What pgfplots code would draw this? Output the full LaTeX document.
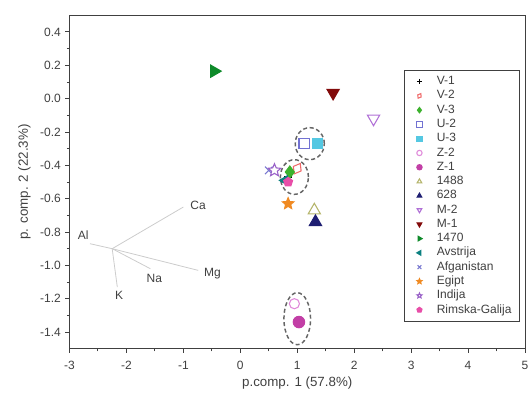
\documentclass[border=0pt]{standalone}
\usepackage{pgfplots}
\pgfplotsset{compat=1.18}
\usepackage{fontspec}
\setmainfont{Liberation Sans}
\usetikzlibrary{plotmarks}

\definecolor{txt}{HTML}{404040}
\definecolor{cV2}{HTML}{F06A6A}
\definecolor{cV3}{HTML}{3DB22E}
\definecolor{cU2}{HTML}{7272D2}
\definecolor{cU3}{HTML}{55C8E2}
\definecolor{cZ2}{HTML}{E08ADA}
\definecolor{cZ1}{HTML}{C23FA6}
\definecolor{c1488}{HTML}{B4B46A}
\definecolor{c628}{HTML}{1E1E72}
\definecolor{cM2}{HTML}{B070D6}
\definecolor{cM1}{HTML}{820A0A}
\definecolor{c1470}{HTML}{0E8A2A}
\definecolor{cAv}{HTML}{0A8080}
\definecolor{cAf}{HTML}{7878D0}
\definecolor{cEg}{HTML}{F08A22}
\definecolor{cIn}{HTML}{9A62C8}
\definecolor{cRG}{HTML}{E84EA8}

% five-pointed star
\pgfdeclareplotmark{fstar}{%
  \pgfpathmoveto{\pgfpointpolar{90}{\pgfplotmarksize}}%
  \pgfpathlineto{\pgfpointpolar{126}{0.45\pgfplotmarksize}}%
  \pgfpathlineto{\pgfpointpolar{162}{\pgfplotmarksize}}%
  \pgfpathlineto{\pgfpointpolar{198}{0.45\pgfplotmarksize}}%
  \pgfpathlineto{\pgfpointpolar{234}{\pgfplotmarksize}}%
  \pgfpathlineto{\pgfpointpolar{270}{0.45\pgfplotmarksize}}%
  \pgfpathlineto{\pgfpointpolar{306}{\pgfplotmarksize}}%
  \pgfpathlineto{\pgfpointpolar{342}{0.45\pgfplotmarksize}}%
  \pgfpathlineto{\pgfpointpolar{18}{\pgfplotmarksize}}%
  \pgfpathlineto{\pgfpointpolar{54}{0.45\pgfplotmarksize}}%
  \pgfpathclose
  \pgfusepathqfillstroke}

\begin{document}
\begin{tikzpicture}
\begin{axis}[
    scale only axis,
    width=341.6pt, height=250pt,
    xmin=-3, xmax=5, ymin=-1.5, ymax=0.5,
    xtick={-3,-2,-1,0,1,2,3,4,5},
    ytick={-1.4,-1.2,-1.0,-0.8,-0.6,-0.4,-0.2,0.0,0.2,0.4},
    minor x tick num=1, minor y tick num=1,
    tick align=outside, xtick pos=bottom, ytick pos=left,
    major tick length=3pt, minor tick length=2pt,
    axis line style={draw=black!75, line width=0.75pt},
    every tick/.style={draw=black!75, line width=0.75pt},
    /pgf/number format/assume math mode=true,
    yticklabel style={/pgf/number format/.cd, fixed, fixed zerofill, precision=1},
    xticklabel style={yshift=-3pt},
    ticklabel style={font=\fontsize{9}{10}\selectfont, text=txt},
    xlabel={p.comp. 1 (57.8\%)},
    ylabel={p. comp. 2 (22.3\%)},
    label style={font=\fontsize{10}{11}\selectfont, text=txt},
    xlabel style={at={(axis description cs:0.5,-0.102)}, anchor=center},
    ylabel style={at={(axis description cs:-0.099,0.5)}, anchor=center},
    legend style={at={(rel axis cs:0.989,0.836)}, anchor=north east,
        draw=black!75, line width=0.75pt, fill=white,
        font=\fontsize{9}{10}\selectfont, text=txt, row sep=0pt,
        inner xsep=3pt, inner ysep=3pt,
        nodes={text height=6.4pt, text depth=1.8pt, inner ysep=1.25pt, inner xsep=3pt}},
    legend cell align=left,
    legend image code/.code={%
        \path[draw=none, fill=none] (0pt,0pt) -- (18pt,0pt);
        \draw[#1, only marks, mark size=2pt] plot coordinates {(8pt,0pt)};},
    every axis plot/.append style={only marks, line width=0.8pt},
]
% loadings
\addplot[forget plot, no marks, draw=black!20, line width=0.6pt, sharp plot] coordinates {(-2.25,-0.9) (-1.0,-0.65)};
\addplot[forget plot, no marks, draw=black!20, line width=0.6pt, sharp plot] coordinates {(-2.25,-0.9) (-2.64,-0.87)};
\addplot[forget plot, no marks, draw=black!20, line width=0.6pt, sharp plot] coordinates {(-2.25,-0.9) (-0.74,-1.03)};
\addplot[forget plot, no marks, draw=black!20, line width=0.6pt, sharp plot] coordinates {(-2.25,-0.9) (-1.58,-1.02)};
\addplot[forget plot, no marks, draw=black!20, line width=0.6pt, sharp plot] coordinates {(-2.25,-0.9) (-2.16,-1.13)};
\begin{scope}[font=\fontsize{9}{10}\selectfont, text=txt]
\node at (axis cs:-0.74,-0.64) {Ca};
\node at (axis cs:-2.76,-0.82) {Al};
\node at (axis cs:-0.49,-1.05) {Mg};
\node at (axis cs:-1.51,-1.08) {Na};
\node at (axis cs:-2.13,-1.18) {K};
\end{scope}

\addplot[mark=+, color=black, mark size=3pt] coordinates {(0.84,-0.47)};
\addplot[mark=diamond, color=cV2, fill=white, mark size=4.5pt, mark options={rotate=-30}] coordinates {(1.0,-0.42)};
\addplot[mark=diamond*, color=cV3, mark size=4.5pt] coordinates {(0.87,-0.44)};
\addplot[mark=square, color=cU2, fill=white, mark size=3.8pt] coordinates {(1.12,-0.27)};
\addplot[mark=square*, color=cU3, mark size=3.8pt] coordinates {(1.35,-0.27)};
\addplot[mark=o, color=cZ2, fill=white, mark size=3.8pt] coordinates {(0.95,-1.23)};
\addplot[mark=*, color=cZ1, mark size=4.3pt] coordinates {(1.03,-1.34)};
\addplot[mark=triangle, color=c1488, fill=white, mark size=5.3pt] coordinates {(1.3,-0.67)};
\addplot[mark=triangle*, color=c628, mark size=5.3pt] coordinates {(1.32,-0.74)};
\addplot[mark=triangle, color=cM2, fill=white, mark size=5.3pt, mark options={rotate=180}] coordinates {(2.34,-0.12)};
\addplot[mark=triangle*, color=cM1, mark size=5.3pt, mark options={rotate=180}] coordinates {(1.63,0.035)};
\addplot[mark=triangle*, color=c1470, mark size=5.3pt, mark options={rotate=-90}] coordinates {(-0.46,0.165)};
\addplot[mark=triangle*, color=cAv, mark size=4pt, mark options={rotate=90}] coordinates {(0.78,-0.49)};
\addplot[mark=x, color=cAf, mark size=4pt] coordinates {(0.5,-0.43)};
\addplot[mark=fstar, color=cEg, mark size=4.5pt] coordinates {(0.84,-0.63)};
\addplot[mark=fstar, color=cIn, fill=white, mark size=5pt] coordinates {(0.6,-0.43)};
\addplot[mark=pentagon*, color=cRG, mark size=3.5pt] coordinates {(0.84,-0.5)};
\legend{V-1,V-2,V-3,U-2,U-3,Z-2,Z-1,1488,628,M-2,M-1,1470,Avstrija,Afganistan,Egipt,Indija,Rimska-Galija}

% group outlines
\draw[black!60, line width=1.1pt, dash pattern=on 3pt off 2pt] (axis cs:1.22,-0.27) ellipse [x radius=10.9pt, y radius=12pt];
\draw[black!60, line width=1.1pt, dash pattern=on 3pt off 2pt] (axis cs:0.95,-0.47) ellipse [x radius=10.5pt, y radius=13pt];
\draw[black!60, line width=1.1pt, dash pattern=on 3pt off 2pt] (axis cs:1.0,-1.32) ellipse [x radius=10pt, y radius=19.5pt];

\coordinate (sw) at (rel axis cs:0,0);
\coordinate (ne) at (rel axis cs:1,1);
\end{axis}
\pgfresetboundingbox
\path ([shift={(-52.1pt,-39.75pt)}]sw) rectangle ([shift={(4.5pt,11.5pt)}]ne);
\end{tikzpicture}
\end{document}
